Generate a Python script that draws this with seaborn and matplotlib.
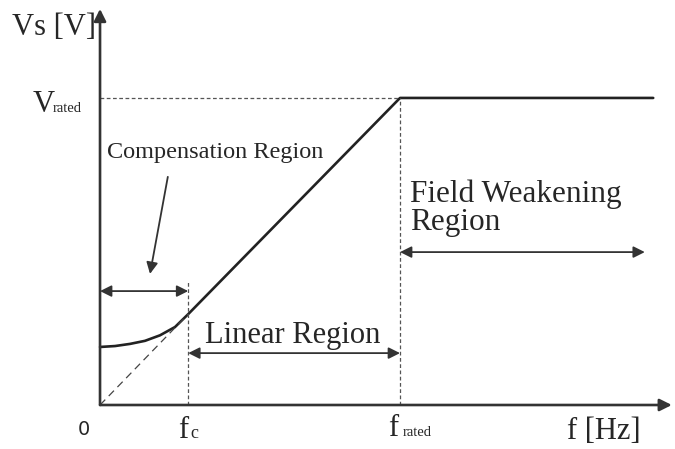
#!/usr/bin/env python3
"""
V/f control characteristic: stator voltage vs frequency.
"""

import matplotlib
matplotlib.use("Agg")
import matplotlib.pyplot as plt
import seaborn as sns
import pandas as pd

# Data (f in Hz, Vs normalised to V_rated)
f_rated = 50.0
v_rated = 1.0
f_c = 14.7
f_axis_end = 95.3
v_axis_end = 1.29

# compensation (boost) region
f_comp = [0, 2.5, 5, 7.5, 10, 12.5, 14.7]
v_comp = [0.189, 0.192, 0.199, 0.209, 0.227, 0.254, 0.296]
# linear and field-weakening parts
f_lin = [50.0, 92.2]
v_lin = [1.0, 1.0]

df = pd.DataFrame({"f": f_comp + f_lin, "Vs": v_comp + v_lin})

sns.set_theme(style="white")
plt.rcParams['font.family'] = ['Liberation Serif', 'DejaVu Serif']

fig = plt.figure(figsize=(6.75, 4.49), dpi=100)
ax = fig.add_axes([0, 0, 1, 1])
ax.set_xlim(-16.67, 95.83)
ax.set_ylim(-0.1433, 1.319)
ax.axis('off')

# main curve
sns.lineplot(data=df, x="f", y="Vs", sort=False, estimator=None,
             color="#222222", lw=1.9, ax=ax)

# ideal linear line from origin
ax.plot([0, f_c], [0, v_comp[-1]], color="#444444", lw=0.9, ls=(0, (6, 4)))

# guide lines
ax.plot([0, f_rated], [v_rated, v_rated], color="#555555", lw=0.9, ls=(0, (3, 2)))
ax.plot([f_rated, f_rated], [0, v_rated], color="#555555", lw=0.9, ls=(0, (3, 2)))
ax.plot([f_c, f_c], [0, 0.40], color="#555555", lw=0.9, ls=(0, (3, 2)))

# axes with arrows
ax_arrow = dict(arrowstyle='-|>', color="#333333", lw=1.9, mutation_scale=18,
                shrinkA=0, shrinkB=0)
ax.annotate("", xy=(0, v_axis_end), xytext=(0, 0), arrowprops=ax_arrow)
ax.annotate("", xy=(f_axis_end, 0), xytext=(0, 0), arrowprops=ax_arrow)

# region arrows
dbl = dict(arrowstyle='<|-|>', color="#333333", lw=1.3, mutation_scale=17,
           shrinkA=0, shrinkB=0)
ax.annotate("", xy=(0, 0.371), xytext=(f_c, 0.371), arrowprops=dbl)
ax.annotate("", xy=(f_c, 0.169), xytext=(f_rated, 0.169), arrowprops=dbl)
ax.annotate("", xy=(f_rated, 0.498), xytext=(90.8, 0.498), arrowprops=dbl)
ax.annotate("", xy=(8.33, 0.427), xytext=(11.3, 0.743),
            arrowprops=dict(arrowstyle='-|>', color="#333333", lw=1.3,
                            mutation_scale=17, shrinkA=0, shrinkB=0))

# texts
ax.text(-14.7, 1.228, "Vs [V]", fontsize=22, ha='left', va='center')
ax.text(-11.3, 0.954, "V", fontsize=22, ha='left', va='baseline')
ax.text(-7.9, 0.954, "rated", fontsize=10.5, ha='left', va='baseline')
ax.text(19.2, 0.821, "Compensation Region", fontsize=17.5, ha='center', va='center')
ax.text(17.5, 0.202, "Linear Region", fontsize=22, ha='left', va='baseline')
ax.text(51.7, 0.661, "Field Weakening", fontsize=22.5, ha='left', va='baseline')
ax.text(51.7, 0.570, "Region", fontsize=22.5, ha='left', va='baseline')
ax.text(-2.67, -0.081, "0", fontsize=14, ha='center', va='center',
        family=['DejaVu Sans'])
ax.text(13.0, -0.1075, "f", fontsize=22, ha='left', va='baseline')
ax.text(15.0, -0.1075, "c", fontsize=13, ha='left', va='baseline')
ax.text(48.0, -0.1010, "f", fontsize=22, ha='left', va='baseline')
ax.text(50.5, -0.1010, "rated", fontsize=10.5, ha='left', va='baseline')
ax.text(77.8, -0.1110, "f [Hz]", fontsize=22, ha='left', va='baseline')

fig.savefig("out.png", dpi=100)
